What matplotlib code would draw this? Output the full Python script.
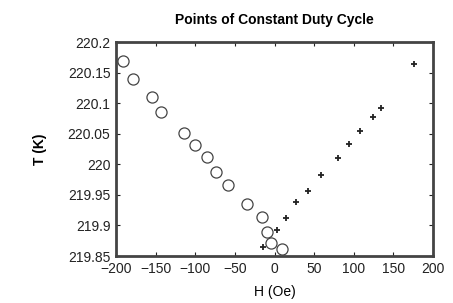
import matplotlib
matplotlib.use("Agg")
import matplotlib.pyplot as plt
from matplotlib.ticker import FixedLocator

plt.rcParams['font.family'] = ['Liberation Sans', 'DejaVu Sans']

# Circles (one branch)
h_circ = [-191.5, -178.9, -154.2, -143.2, -114.6, -99.9, -85.6, -73.8, -58.3,
          -34.7, -15.8, -9.1, -4.8, 9.1]
t_circ = [220.169, 220.140, 220.110, 220.085, 220.051, 220.032, 220.012,
          219.988, 219.966, 219.935, 219.914, 219.889, 219.871, 219.861]

# Pluses (other branch)
h_plus = [-14.9, 2.8, 14.1, 27.1, 42.7, 58.7, 79.7, 94.4, 108.3, 123.9, 134.4, 176.4]
t_plus = [219.864, 219.892, 219.913, 219.938, 219.957, 219.982, 220.011,
          220.033, 220.054, 220.077, 220.093, 220.164]

x_ticks = [-200, -150, -100, -50, 0, 50, 100, 150, 200]
y_ticks = [219.85, 219.9, 219.95, 220.0, 220.05, 220.1, 220.15, 220.2]
y_labels = ["219.85", "219.9", "219.95", "220", "220.05", "220.1", "220.15", "220.2"]

fig = plt.figure(figsize=(4.53, 3.03), dpi=100)
ax = fig.add_axes([0.256, 0.155, 0.700, 0.706])

ax.plot(h_circ, t_circ, linestyle='none', marker='o', markersize=8,
        markerfacecolor='none', markeredgecolor='#444444', markeredgewidth=0.9)
ax.plot(h_plus, t_plus, linestyle='none', marker='+', markersize=5,
        color='#222222', markeredgewidth=1.3)

ax.set_xlim(-200, 200)
ax.set_ylim(219.85, 220.2)
ax.xaxis.set_major_locator(FixedLocator(x_ticks))
ax.yaxis.set_major_locator(FixedLocator(y_ticks))
ax.set_yticks(y_ticks)
ax.set_yticklabels(y_labels)
ax.tick_params(direction='in', length=3, width=0.8, top=True, right=True,
               labelsize=10, pad=4, colors='#222222')
for s in ax.spines.values():
    s.set_linewidth(2.0)
    s.set_color('#444444')

ax.set_xlabel("H (Oe)", fontsize=10, labelpad=7)
ax.set_ylabel("T (K)", fontsize=10, fontweight='bold', labelpad=15)
ax.set_title("Points of Constant Duty Cycle", fontsize=10, fontweight='bold', pad=13)

fig.savefig("out.png", dpi=100)
